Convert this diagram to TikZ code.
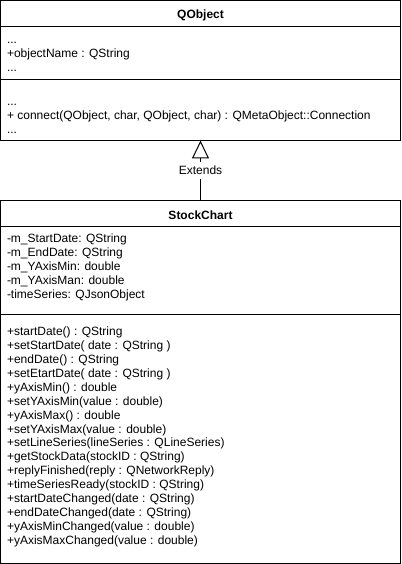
\documentclass[tikz,border=0pt]{standalone}
\usepackage{fontspec}
\setmainfont{Liberation Sans}
\usetikzlibrary{arrows.meta}
\newcommand{\dreipkt}{...}
\begin{document}
\begin{tikzpicture}[x=1pt,y=-1pt,line width=1pt,font=\fontsize{12}{14}\selectfont,
  fach/.style={draw,rectangle,minimum width=400pt,inner sep=0pt,outer sep=0pt,anchor=north west},
  kopf/.style={fach,minimum height=26pt,font=\fontsize{12}{14}\selectfont\bfseries,text height=12pt,text depth=1pt},
  zeile/.style={anchor=base west,inner sep=0pt},
  erbt/.style={-{Triangle[open,length=18pt,width=17pt]}}]
\useasboundingbox (0,0) rectangle (401,564);
% Oberklasse QObject
\node[kopf] (qtitle) at (0.5,0.5) {QObject};
\node[fach,minimum height=53pt] (qattr) at (qtitle.south west) {};
\node[fach,minimum height=61pt] (qmeth) at (qattr.south west) {};
\foreach \t [count=\i] in {\dreipkt,+objectName : QString,\dreipkt}
  \node[zeile] (qa\i) at (6.5,30+14*\i) {\t};
\foreach \t [count=\i] in {\dreipkt,{+ connect(QObject, char, QObject, char) : QMetaObject::Connection},\dreipkt}
  \node[zeile] (qm\i) at (6.5,92+14*\i) {\t};
% Klasse StockChart
\node[kopf] (stitle) at (0.5,200.5) {StockChart};
\node[fach,minimum height=88pt] (sattr) at (stitle.south west) {};
\node[fach,minimum height=249pt] (smeth) at (sattr.south west) {};
\foreach \t [count=\i] in {-m\_StartDate: QString,-m\_EndDate: QString,-m\_YAxisMin: double,-m\_YAxisMan: double,-timeSeries: QJsonObject}
  \node[zeile] (sa\i) at (6.5,228.5+14*\i) {\t};
\foreach \t [count=\i] in {+startDate() : QString,+setStartDate( date : QString ),+endDate() : QString,+setEtartDate( date : QString ),
  +yAxisMin() : double,+setYAxisMin(value : double),+yAxisMax() : double,+setYAxisMax(value : double),
  +setLineSeries(lineSeries : QLineSeries),+getStockData(stockID : QString),+replyFinished(reply : QNetworkReply),
  +timeSeriesReady(stockID : QString),+startDateChanged(date : QString),+endDateChanged(date : QString),
  +yAxisMinChanged(value : double),+yAxisMaxChanged(value : double)}
  \node[zeile] (sm\i) at (6.5,321.8+13.9*\i) {\t};
% Vererbung
\draw[erbt] (stitle.north) -- node[fill=white,inner xsep=1pt,inner ysep=4pt] (ext) {Extends} (qmeth.south);
\end{tikzpicture}
\end{document}
